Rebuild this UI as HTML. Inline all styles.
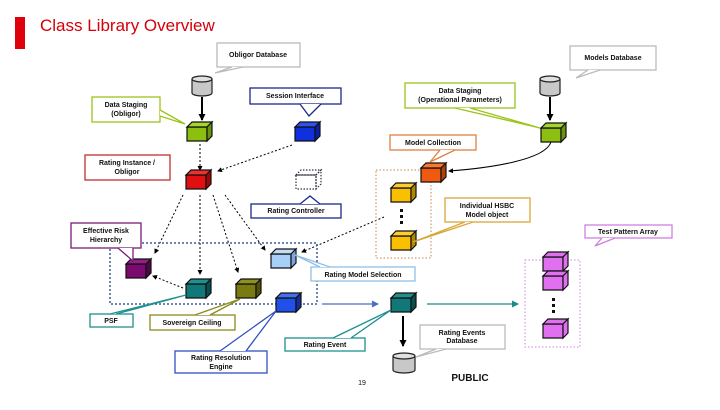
<!DOCTYPE html>
<html><head><meta charset="utf-8"><style>
body{margin:0;background:#fff;width:720px;height:405px;overflow:hidden}
svg text{font-family:"Liberation Sans",sans-serif;font-weight:bold;font-size:7px;text-anchor:middle;fill:#111}
</style></head><body>
<svg width="720" height="405" viewBox="0 0 720 405" xmlns="http://www.w3.org/2000/svg">
<defs>
<marker id="a" markerUnits="userSpaceOnUse" markerWidth="7" markerHeight="7" refX="6" refY="3.5" orient="auto"><path d="M0,0L7,3.5L0,7z" fill="#000"/></marker>
<marker id="ab" markerUnits="userSpaceOnUse" markerWidth="7" markerHeight="7" refX="6" refY="3.5" orient="auto"><path d="M0,0L7,3.5L0,7z" fill="#4a6fc4"/></marker>
<marker id="at" markerUnits="userSpaceOnUse" markerWidth="7" markerHeight="7" refX="6" refY="3.5" orient="auto"><path d="M0,0L7,3.5L0,7z" fill="#1e8a86"/></marker>
<marker id="as" markerUnits="userSpaceOnUse" markerWidth="5" markerHeight="5" refX="4" refY="2.5" orient="auto"><path d="M0,0L5,2.5L0,5z" fill="#000"/></marker>
</defs>
<rect x="15" y="17" width="10" height="32" fill="#e0000b"/>
<text x="40" y="31" style="font-size:17px;font-weight:normal;text-anchor:start;fill:#d4000a">Class Library Overview</text>

<g stroke="#000" stroke-width="1" fill="none">
<line x1="202" y1="97" x2="202" y2="120" stroke-width="2" marker-end="url(#a)"/>
<line x1="550" y1="97" x2="550" y2="120" stroke-width="2" marker-end="url(#a)"/>
<line x1="403" y1="316" x2="403" y2="346" stroke-width="2" marker-end="url(#a)"/>
<g stroke-dasharray="2,2">
<line x1="200" y1="144" x2="200" y2="170" marker-end="url(#as)"/>
<line x1="292" y1="145" x2="218" y2="171" marker-end="url(#as)"/>
<line x1="183" y1="195" x2="155" y2="253" marker-end="url(#as)"/>
<line x1="200" y1="195" x2="200" y2="274" marker-end="url(#as)"/>
<line x1="213" y1="195" x2="238" y2="272" marker-end="url(#as)"/>
<line x1="225" y1="195" x2="265" y2="250" marker-end="url(#as)"/>
<line x1="384" y1="217" x2="302" y2="252" marker-end="url(#as)"/>
<line x1="183" y1="288" x2="153" y2="276" marker-end="url(#as)"/>
</g>
<path d="M551 142 C545 160 490 168 449 171" marker-end="url(#as)"/>
</g>
<line x1="322" y1="304" x2="378" y2="304" stroke="#4a6fc4" stroke-width="1.2" marker-end="url(#ab)"/>
<line x1="427" y1="304" x2="518" y2="304" stroke="#1e8a86" stroke-width="1.2" marker-end="url(#at)"/>

<rect x="110" y="243" width="207" height="61" fill="none" stroke="#3b5a9a" stroke-width="1.5" stroke-dasharray="2,2"/>
<rect x="376" y="170" width="55" height="88" fill="none" stroke="#c8844a" stroke-width="1" stroke-dasharray="1.5,2"/>
<rect x="525" y="260" width="55" height="87" fill="none" stroke="#d080e0" stroke-width="1" stroke-dasharray="1.5,2"/>

<g stroke="#111" stroke-width="1.2">
<path d="M187 127h20v14h-20z" fill="#8cbf10"/><path d="M187 127l5-5h20l-5 5z" fill="#a6d62a"/><path d="M207 127l5-5v14l-5 5z" fill="#6a9410"/>
<path d="M295 127h20v14h-20z" fill="#1030e0"/><path d="M295 127l5-5h20l-5 5z" fill="#3050f0"/><path d="M315 127l5-5v14l-5 5z" fill="#0820a0"/>
<path d="M186 175h20v14h-20z" fill="#e01010"/><path d="M186 175l5-5h20l-5 5z" fill="#f03030"/><path d="M206 175l5-5v14l-5 5z" fill="#a00808"/>
<g stroke="#334" stroke-dasharray="1.5,1.5" fill="none"><path d="M296 175h20v14h-20z"/><path d="M296 175l5-5h20l-5 5z"/><path d="M316 175l5-5v14l-5 5z"/></g>
<path d="M126 264h20v14h-20z" fill="#7a0a70"/><path d="M126 264l5-5h20l-5 5z" fill="#922088"/><path d="M146 264l5-5v14l-5 5z" fill="#500548"/>
<path d="M186 284h20v14h-20z" fill="#107878"/><path d="M186 284l5-5h20l-5 5z" fill="#208f8f"/><path d="M206 284l5-5v14l-5 5z" fill="#085050"/>
<path d="M236 284h20v14h-20z" fill="#7a7a10"/><path d="M236 284l5-5h20l-5 5z" fill="#909020"/><path d="M256 284l5-5v14l-5 5z" fill="#505008"/>
<path d="M271 254h20v14h-20z" fill="#a8cff8"/><path d="M271 254l5-5h20l-5 5z" fill="#c0ddfa"/><path d="M291 254l5-5v14l-5 5z" fill="#7aa8d8"/>
<path d="M276 298h20v14h-20z" fill="#2050e8"/><path d="M276 298l5-5h20l-5 5z" fill="#4070f0"/><path d="M296 298l5-5v14l-5 5z" fill="#1030a0"/>
<path d="M421 168h20v14h-20z" fill="#f05a10"/><path d="M421 168l5-5h20l-5 5z" fill="#f77a30"/><path d="M441 168l5-5v14l-5 5z" fill="#b04008"/>
<path d="M391 188h20v14h-20z" fill="#f8c000"/><path d="M391 188l5-5h20l-5 5z" fill="#fad030"/><path d="M411 188l5-5v14l-5 5z" fill="#b08800"/>
<path d="M391 236h20v14h-20z" fill="#f8c000"/><path d="M391 236l5-5h20l-5 5z" fill="#fad030"/><path d="M411 236l5-5v14l-5 5z" fill="#b08800"/>
<path d="M391 298h20v14h-20z" fill="#107878"/><path d="M391 298l5-5h20l-5 5z" fill="#208f8f"/><path d="M411 298l5-5v14l-5 5z" fill="#085050"/>
<path d="M541 128h20v14h-20z" fill="#8cbf10"/><path d="M541 128l5-5h20l-5 5z" fill="#a6d62a"/><path d="M561 128l5-5v14l-5 5z" fill="#6a9410"/>
<g fill="#e070f0"><path d="M543 257h20v14h-20z"/><path d="M543 257l5-5h20l-5 5z"/><path d="M563 257l5-5v14l-5 5z"/>
<path d="M543 276h20v14h-20z"/><path d="M543 276l5-5h20l-5 5z"/><path d="M563 276l5-5v14l-5 5z"/>
<path d="M543 324h20v14h-20z"/><path d="M543 324l5-5h20l-5 5z"/><path d="M563 324l5-5v14l-5 5z"/></g>
</g>
<g fill="#111"><rect x="400" y="209" width="3" height="3"/><rect x="400" y="215" width="3" height="3"/><rect x="400" y="221" width="3" height="3"/>
<rect x="552" y="298" width="3" height="3"/><rect x="552" y="304" width="3" height="3"/><rect x="552" y="310" width="3" height="3"/></g>

<g fill="#c8c8c8" stroke="#222" stroke-width="1.2">
<path d="M192 79v14a10 3 0 0 0 20 0v-14"/><ellipse cx="202" cy="79" rx="10" ry="3" fill="#e0e0e0"/>
<path d="M540 79v14a10 3 0 0 0 20 0v-14"/><ellipse cx="550" cy="79" rx="10" ry="3" fill="#e0e0e0"/>
<path d="M393 356v14a11 3 0 0 0 22 0v-14"/><ellipse cx="404" cy="356" rx="11" ry="3" fill="#e0e0e0"/>
</g>

<g fill="#fff" stroke-width="1.3">
<g stroke="#bbb"><rect x="217" y="43" width="83" height="24"/><path d="M232 67l-17 6 28-6"/>
<rect x="570" y="46" width="86" height="24"/><path d="M588 70l-12 8 24-8"/>
<rect x="420" y="325" width="85" height="24"/><path d="M436 349l-20 8 30-8"/></g>
<g stroke="#1a2a8a"><rect x="250" y="88" width="91" height="16"/><path d="M300 104l9 12 12-12"/>
<rect x="251" y="204" width="90" height="14"/><path d="M300 204l10-8 10 8"/></g>
<g stroke="#9cc41c"><rect x="92" y="97" width="68" height="25"/><path d="M160 110l25 14-25-8"/>
<rect x="405" y="83" width="110" height="25"/><path d="M455 108l85 20-70-20"/></g>
<g stroke="#c03030"><rect x="85" y="155" width="85" height="25"/></g>
<g stroke="#7a1a7a"><rect x="71" y="223" width="70" height="25"/><path d="M118 248l15 13v-13"/></g>
<g stroke="#90c0e8"><rect x="311" y="267" width="104" height="14"/><path d="M330 267l-35-12 25 12"/></g>
<g stroke="#1e9090"><rect x="90" y="314" width="43" height="13"/><path d="M110 314l76-19-70 19"/>
<rect x="285" y="338" width="80" height="13"/><path d="M333 338l58-28-40 28"/></g>
<g stroke="#8a8a20"><rect x="150" y="315" width="85" height="15"/><path d="M195 315l45-16-30 16"/></g>
<g stroke="#3050c0"><rect x="175" y="351" width="92" height="22"/><path d="M220 351l56-40-30 40"/></g>
<g stroke="#e08040"><rect x="390" y="135" width="86" height="15"/><path d="M440 150l-10 12 25-12"/></g>
<g stroke="#d8a838"><rect x="445" y="198" width="85" height="24"/><path d="M465 222l-52 20 60-20"/></g>
<g stroke="#d080e0"><rect x="585" y="225" width="87" height="13"/><path d="M602 238l-7 8 20-8"/></g>
</g>
<g>
<text x="258" y="57">Obligor Database</text>
<text x="613" y="60">Models Database</text>
<text x="462" y="335">Rating Events</text><text x="462" y="343">Database</text>
<text x="295" y="98">Session Interface</text>
<text x="296" y="213">Rating Controller</text>
<text x="126" y="107">Data Staging</text><text x="126" y="116">(Obligor)</text>
<text x="460" y="93">Data Staging</text><text x="460" y="102">(Operational Parameters)</text>
<text x="127" y="165">Rating Instance /</text><text x="127" y="174">Obligor</text>
<text x="106" y="233">Effective Risk</text><text x="106" y="242">Hierarchy</text>
<text x="363" y="277">Rating Model Selection</text>
<text x="111" y="323">PSF</text>
<text x="192" y="325">Sovereign Ceiling</text>
<text x="221" y="360">Rating Resolution</text><text x="221" y="369">Engine</text>
<text x="325" y="347">Rating Event</text>
<text x="433" y="145">Model Collection</text>
<text x="487" y="208">Individual HSBC</text><text x="487" y="217">Model object</text>
<text x="628" y="234">Test Pattern Array</text>
<text x="362" y="385" style="font-weight:normal">19</text>
<text x="470" y="381" style="font-size:10px">PUBLIC</text>
</g>
</svg>
</body></html>
